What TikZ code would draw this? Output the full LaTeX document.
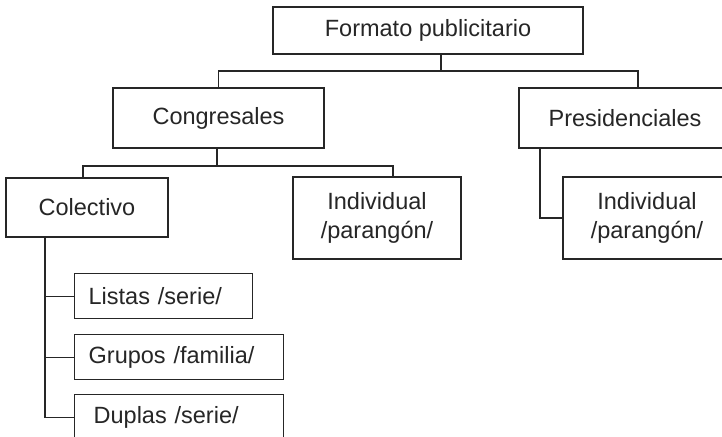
\documentclass[tikz,border=0pt]{standalone}
\usepackage{fontspec}
\setmainfont{Liberation Sans}
\definecolor{ink}{HTML}{262626}
\begin{document}
\begin{tikzpicture}[x=1pt,y=-1pt,
  every node/.style={font=\fontsize{23.5}{29}\selectfont, text=ink},
  box/.style={draw=ink, line width=1.3pt, fill=white, inner sep=0pt, align=center},
  leftbox/.style={draw=ink, line width=1.3pt, fill=white, inner xsep=14pt, inner ysep=0pt, align=left, anchor=north west, minimum height=45pt},
  link/.style={draw=ink, line width=1.3pt}]
\useasboundingbox (0,0) rectangle (722,436);
\clip (0,0) rectangle (722,436);
% nodes
\node[box, minimum width=310pt, minimum height=47pt] (top) at (428,30.5) {Formato publicitario};
\node[box, minimum width=211pt, minimum height=60pt] (cong) at (218.5,118) {Congresales};
\node[box, minimum width=212pt, minimum height=60pt] (pres) at (625,118) {Presidenciales};
\node[box, minimum width=162pt, minimum height=59pt] (colec) at (87,207.5) {Colectivo};
\node[box, minimum width=168pt, minimum height=82pt] (ind1) at (377,218) {Individual\\/parangón/};
\node[box, minimum width=168pt, minimum height=82pt] (ind2) at (647,218) {Individual\\/parangón/};
\node[leftbox, text width=150pt] (listas) at (74,273) {Listas /serie/};
\node[leftbox, text width=181pt] (grupos) at (74,334) {Grupos /familia/};
\node[leftbox, text width=181pt] (duplas) at (74,394) {\hspace*{5pt}Duplas /serie/};
% junction coordinates
\coordinate (tj) at (441,71);
\coordinate (pj) at (638,71);
\coordinate (cj) at (217,166);
\coordinate (cl) at (83,166);
\coordinate (cr) at (393,166);
\coordinate (pv) at (540,218);
\coordinate (ct) at (45,300);
% connectors
\draw[link] (top.south -| tj) -- (tj);
\draw[link] (cong.north) |- (pj) -- (pj |- pres.north);
\draw[link] (cong.south -| cj) -- (cj);
\draw[link] (cl |- colec.north) -- (cl) -- (cr) -- (cr |- ind1.north);
\draw[link] (pres.south -| pv) |- (ind2.west);
\draw[link] (colec.south -| ct) |- (duplas.west);
\draw[link] (listas.west -| ct) -- (listas.west);
\draw[link] (grupos.west -| ct) -- (grupos.west);
\end{tikzpicture}
\end{document}
